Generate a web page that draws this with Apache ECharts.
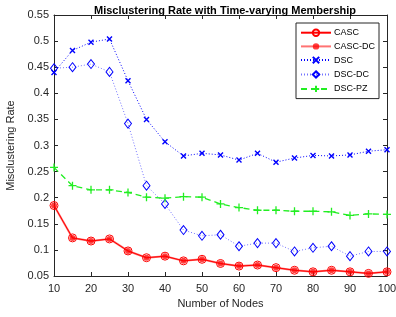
<!DOCTYPE html>
<html><head><meta charset="utf-8">
<script src="https://cdn.jsdelivr.net/npm/echarts@6/dist/echarts.min.js"></script>
<style>html,body{margin:0;padding:0;background:#fff}#c{width:396px;height:317px}</style>
</head><body><div id="c"></div>
<script>
var nodes = [10,15,20,25,30,35,40,45,50,55,60,65,70,75,80,85,90,95,100];
var casc   = [0.185,0.123,0.117,0.121,0.098,0.085,0.088,0.079,0.082,0.074,0.069,0.071,0.066,0.061,0.058,0.061,0.058,0.055,0.058];
var cascDC = [0.185,0.123,0.117,0.121,0.098,0.085,0.088,0.079,0.082,0.074,0.069,0.071,0.066,0.061,0.058,0.061,0.058,0.055,0.058];
var dsc    = [0.440,0.482,0.498,0.504,0.424,0.350,0.307,0.280,0.285,0.282,0.272,0.285,0.268,0.276,0.281,0.280,0.282,0.289,0.292];
var dscDC  = [0.448,0.450,0.456,0.441,0.342,0.223,0.188,0.138,0.127,0.129,0.107,0.113,0.113,0.097,0.104,0.107,0.088,0.097,0.097];
var dscPZ  = [0.258,0.223,0.215,0.215,0.210,0.201,0.199,0.202,0.201,0.188,0.181,0.176,0.176,0.174,0.174,0.173,0.166,0.169,0.168];
var seriesNames = ['CASC','CASC-DC','DSC','DSC-DC','DSC-PZ'];

function pairs(v){ return nodes.map(function(x,i){return [x,v[i]];}); }
var font = 'Liberation Sans, Arial, sans-serif';
var axisCol = '#262626';
var xMark = 'path://M0,0L10,10M10,0L0,10';
var plusMark = 'path://M5,0L5,10M0,5L10,5';

var chart = echarts.init(document.getElementById('c'));
chart.setOption({
  animation:false,
  title:{text:'Misclustering Rate with Time-varying Membership',left:220,textAlign:'center',top:0,
    textStyle:{fontFamily:font,fontSize:11,fontWeight:'bold',color:'#000'}},
  grid:{left:54,right:9,top:15,bottom:41,outerBoundsMode:'none',containLabel:false},
  legend:{orient:'vertical',left:296,top:23,itemWidth:30,itemHeight:8,itemGap:3,
    padding:[4,4,4,4],borderColor:axisCol,borderWidth:1,backgroundColor:'#fff',
    textStyle:{fontFamily:font,fontSize:9,lineHeight:10,color:'#000',padding:[0,0,0,-2]},data:seriesNames},
  xAxis:[{type:'value',min:10,max:100,interval:10,name:'Number of Nodes',nameLocation:'middle',nameGap:20,
    nameTextStyle:{fontFamily:font,fontSize:11,color:axisCol},
    axisLine:{lineStyle:{color:axisCol}},axisTick:{inside:true,length:4,lineStyle:{color:axisCol}},
    axisLabel:{fontFamily:font,fontSize:11,color:axisCol,margin:7},splitLine:{show:false}},
    {type:'value',position:'top',min:10,max:100,interval:10,axisLine:{show:true,lineStyle:{color:axisCol}},
    axisTick:{inside:true,length:4,lineStyle:{color:axisCol}},axisLabel:{show:false},splitLine:{show:false}}],
  yAxis:[{type:'value',min:0.05,max:0.55,interval:0.05,name:'Misclustering Rate',nameLocation:'middle',nameGap:37,
    nameTextStyle:{fontFamily:font,fontSize:11,color:axisCol},
    axisLine:{show:true,lineStyle:{color:axisCol}},axisTick:{show:true,inside:true,length:4,lineStyle:{color:axisCol}},
    axisLabel:{fontFamily:font,fontSize:11,color:axisCol,margin:5,formatter:function(v){return (Math.round(v*100)/100).toString();}},splitLine:{show:false}},
    {type:'value',position:'right',min:0.05,max:0.55,interval:0.05,axisLine:{show:true,lineStyle:{color:axisCol}},
    axisTick:{show:true,inside:true,length:4,lineStyle:{color:axisCol}},axisLabel:{show:false},splitLine:{show:false}}],
  series:[
    {name:'CASC',type:'line',data:pairs(casc),symbol:'circle',symbolSize:8,
      lineStyle:{color:'#ff0000',width:1},itemStyle:{color:'none',borderColor:'#ff0000',borderWidth:1}},
    {name:'CASC-DC',type:'line',data:pairs(cascDC),symbol:'circle',symbolSize:6,
      lineStyle:{color:'rgba(255,0,0,0.55)',width:2},itemStyle:{color:'rgba(255,0,0,0.75)'}},
    {name:'DSC',type:'line',data:pairs(dsc),symbol:xMark,symbolSize:5,
      lineStyle:{color:'#0000ff',width:1,type:[1,2]},itemStyle:{color:'none',borderColor:'#0000ff',borderWidth:1.4}},
    {name:'DSC-DC',type:'line',data:pairs(dscDC),symbol:'diamond',symbolSize:[7,9],
      lineStyle:{color:'rgba(0,0,255,0.55)',width:1,type:[1,2]},itemStyle:{color:'none',borderColor:'#0000ff',borderWidth:1}},
    {name:'DSC-PZ',type:'line',data:pairs(dscPZ),symbol:plusMark,symbolSize:8,
      lineStyle:{color:'#22ee22',width:1.3,type:[6,4]},itemStyle:{color:'none',borderColor:'#22ee22',borderWidth:1.3}}
  ]
});
</script></body></html>
